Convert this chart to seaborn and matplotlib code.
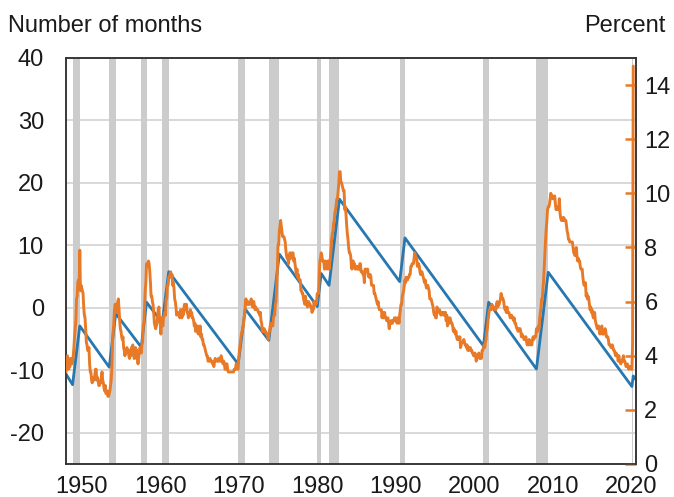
import numpy as np
import pandas as pd
import matplotlib
matplotlib.use("Agg")
import matplotlib.pyplot as plt
import seaborn as sns

# recessions (start, end) in decimal years
rec_start = [1948.83, 1953.50, 1957.58, 1960.25, 1969.92, 1973.83, 1980.00,
             1981.50, 1990.50, 2001.17, 2007.92, 2020.08]
rec_end = [1949.75, 1954.33, 1958.25, 1961.08, 1970.83, 1975.17, 1980.50,
           1982.83, 1991.17, 2001.83, 2009.42, 2020.25]

# blue line: number of months (turning points)
months_x = [1948.0, 1948.83, 1949.75, 1953.50, 1954.33, 1957.58, 1958.25, 1960.25,
            1961.08, 1969.92, 1970.83, 1973.83, 1975.17, 1980.00, 1980.50, 1981.50,
            1982.83, 1990.50, 1991.17, 2001.17, 2001.83, 2007.92, 2009.42, 2020.08,
            2020.25, 2020.58]
months_y = [-10.6, -12.3, -2.9, -9.5, -0.9, -6.3, 0.9, -2.4,
            5.8, -9.0, -0.2, -5.2, 8.6, 0.2, 5.5, 3.6,
            17.4, 4.2, 11.2, -6.1, 0.9, -9.8, 5.7, -12.6,
            -10.9, -11.5]

# orange line: unemployment rate, percent, monthly from Jan 1948
u_1940s = [3.4, 3.8, 4.0, 3.9, 3.5, 3.6, 3.6, 3.9, 3.8, 3.7, 3.8, 4.0,
           4.3, 4.7, 5.0, 5.3, 6.1, 6.2, 6.7, 6.8, 6.6, 7.9, 6.4, 6.6]
u_1950s = [6.5, 6.4, 6.3, 5.8, 5.5, 5.4, 5.0, 4.5, 4.4, 4.2, 4.2, 4.3,
           3.7, 3.4, 3.4, 3.1, 3.0, 3.2, 3.1, 3.1, 3.3, 3.5, 3.5, 3.1,
           3.2, 3.1, 2.9, 2.9, 3.0, 3.0, 3.2, 3.4, 3.1, 3.0, 2.8, 2.7,
           2.9, 2.6, 2.6, 2.7, 2.5, 2.5, 2.6, 2.7, 2.9, 3.1, 3.5, 4.5,
           4.9, 5.2, 5.7, 5.9, 5.9, 5.6, 5.8, 6.0, 6.1, 5.7, 5.3, 5.0,
           4.9, 4.7, 4.6, 4.7, 4.3, 4.2, 4.0, 4.2, 4.1, 4.3, 4.2, 4.2,
           4.0, 3.9, 4.2, 4.0, 4.3, 4.3, 4.4, 4.1, 3.9, 3.9, 4.3, 4.2,
           4.2, 3.9, 3.7, 3.9, 4.1, 4.3, 4.2, 4.1, 4.4, 4.5, 5.1, 5.2,
           5.8, 6.4, 6.7, 7.4, 7.4, 7.3, 7.5, 7.4, 7.1, 6.7, 6.2, 6.2,
           6.0, 5.9, 5.6, 5.2, 5.1, 5.0, 5.1, 5.2, 5.5, 5.7, 5.8, 5.3]
u_1960s = [5.2, 4.8, 5.4, 5.2, 5.1, 5.4, 5.5, 5.6, 5.5, 6.1, 6.1, 6.6,
           6.6, 6.9, 6.9, 7.0, 7.1, 6.9, 7.0, 6.6, 6.7, 6.5, 6.1, 6.0,
           5.8, 5.5, 5.6, 5.6, 5.5, 5.5, 5.4, 5.7, 5.6, 5.4, 5.7, 5.5,
           5.7, 5.9, 5.7, 5.7, 5.9, 5.6, 5.6, 5.4, 5.5, 5.5, 5.7, 5.5,
           5.6, 5.4, 5.4, 5.3, 5.1, 5.2, 4.9, 5.0, 5.1, 5.1, 4.8, 5.0,
           4.9, 5.1, 4.7, 4.8, 4.6, 4.6, 4.4, 4.4, 4.3, 4.2, 4.1, 4.0,
           4.0, 3.8, 3.8, 3.8, 3.9, 3.8, 3.8, 3.8, 3.7, 3.7, 3.6, 3.8,
           3.9, 3.8, 3.8, 3.8, 3.8, 3.9, 3.8, 3.8, 3.8, 4.0, 3.9, 3.8,
           3.7, 3.8, 3.7, 3.5, 3.5, 3.7, 3.7, 3.5, 3.4, 3.4, 3.4, 3.4,
           3.4, 3.4, 3.4, 3.4, 3.4, 3.5, 3.5, 3.5, 3.7, 3.7, 3.5, 3.5]
u_1970s = [3.9, 4.2, 4.4, 4.6, 4.8, 4.9, 5.0, 5.1, 5.4, 5.5, 5.9, 6.1,
           5.9, 5.9, 6.0, 5.9, 5.9, 5.9, 6.0, 6.1, 6.0, 5.8, 6.0, 6.0,
           5.8, 5.7, 5.8, 5.7, 5.7, 5.7, 5.6, 5.6, 5.5, 5.6, 5.3, 5.2,
           4.9, 5.0, 4.9, 5.0, 4.9, 4.9, 4.8, 4.8, 4.8, 4.6, 4.8, 4.9,
           5.1, 5.2, 5.1, 5.1, 5.1, 5.4, 5.5, 5.5, 5.9, 6.0, 6.6, 7.2,
           8.1, 8.1, 8.6, 8.8, 9.0, 8.8, 8.6, 8.4, 8.4, 8.4, 8.3, 8.2,
           7.9, 7.7, 7.6, 7.7, 7.4, 7.6, 7.8, 7.8, 7.6, 7.7, 7.8, 7.8,
           7.5, 7.6, 7.4, 7.2, 7.0, 7.2, 6.9, 7.0, 6.8, 6.8, 6.8, 6.4,
           6.4, 6.3, 6.3, 6.1, 6.0, 5.9, 6.2, 5.9, 6.0, 5.8, 5.9, 6.0,
           5.9, 5.9, 5.8, 5.8, 5.6, 5.7, 5.7, 6.0, 5.9, 6.0, 5.9, 6.0]
u_1980s = [6.3, 6.3, 6.3, 6.9, 7.5, 7.6, 7.8, 7.7, 7.5, 7.5, 7.5, 7.2,
           7.5, 7.4, 7.4, 7.2, 7.5, 7.5, 7.2, 7.4, 7.6, 7.9, 8.3, 8.5,
           8.6, 8.9, 9.0, 9.3, 9.4, 9.6, 9.8, 9.8, 10.1, 10.4, 10.8, 10.8,
           10.4, 10.4, 10.3, 10.2, 10.1, 10.1, 9.4, 9.5, 9.2, 8.8, 8.5, 8.3,
           8.0, 7.8, 7.8, 7.7, 7.4, 7.2, 7.5, 7.5, 7.3, 7.4, 7.2, 7.3,
           7.3, 7.2, 7.2, 7.3, 7.2, 7.4, 7.4, 7.1, 7.1, 7.1, 7.0, 7.0,
           6.7, 7.2, 7.2, 7.1, 7.2, 7.2, 7.0, 6.9, 7.0, 7.0, 6.9, 6.6,
           6.6, 6.6, 6.6, 6.3, 6.3, 6.2, 6.1, 6.0, 5.9, 6.0, 5.8, 5.7,
           5.7, 5.7, 5.7, 5.4, 5.6, 5.4, 5.4, 5.6, 5.4, 5.4, 5.3, 5.3,
           5.4, 5.2, 5.0, 5.2, 5.2, 5.3, 5.2, 5.2, 5.3, 5.3, 5.4, 5.4]
u_1990s = [5.4, 5.3, 5.2, 5.4, 5.4, 5.2, 5.5, 5.7, 5.9, 5.9, 6.2, 6.3,
           6.4, 6.6, 6.8, 6.7, 6.9, 6.9, 6.8, 6.9, 6.9, 7.0, 7.0, 7.3,
           7.3, 7.4, 7.4, 7.4, 7.6, 7.8, 7.7, 7.6, 7.6, 7.3, 7.4, 7.4,
           7.3, 7.1, 7.0, 7.1, 7.1, 7.0, 6.9, 6.8, 6.7, 6.8, 6.6, 6.5,
           6.6, 6.6, 6.5, 6.4, 6.1, 6.1, 6.1, 6.0, 5.9, 5.8, 5.6, 5.5,
           5.6, 5.4, 5.4, 5.8, 5.6, 5.6, 5.7, 5.7, 5.6, 5.5, 5.6, 5.6,
           5.6, 5.5, 5.5, 5.6, 5.6, 5.3, 5.5, 5.1, 5.2, 5.2, 5.4, 5.4,
           5.3, 5.2, 5.2, 5.1, 4.9, 5.0, 4.9, 4.8, 4.9, 4.7, 4.6, 4.7,
           4.6, 4.6, 4.7, 4.3, 4.4, 4.5, 4.5, 4.5, 4.6, 4.5, 4.4, 4.4,
           4.3, 4.4, 4.2, 4.3, 4.2, 4.3, 4.3, 4.2, 4.2, 4.1, 4.1, 4.0]
u_2000s = [4.0, 4.1, 4.0, 3.8, 4.0, 4.0, 4.0, 4.1, 3.9, 3.9, 3.9, 3.9,
           4.2, 4.2, 4.3, 4.4, 4.3, 4.5, 4.6, 4.9, 5.0, 5.3, 5.5, 5.7,
           5.7, 5.7, 5.7, 5.9, 5.8, 5.8, 5.8, 5.7, 5.7, 5.7, 5.9, 6.0,
           5.8, 5.9, 5.9, 6.0, 6.1, 6.3, 6.2, 6.1, 6.1, 6.0, 5.8, 5.7,
           5.7, 5.6, 5.8, 5.6, 5.6, 5.6, 5.5, 5.4, 5.4, 5.5, 5.4, 5.4,
           5.3, 5.4, 5.2, 5.2, 5.1, 5.0, 5.0, 4.9, 5.0, 5.0, 5.0, 4.9,
           4.7, 4.8, 4.7, 4.7, 4.6, 4.6, 4.7, 4.7, 4.5, 4.4, 4.5, 4.4,
           4.6, 4.5, 4.4, 4.5, 4.4, 4.6, 4.7, 4.6, 4.7, 4.7, 4.7, 5.0,
           5.0, 4.9, 5.1, 5.0, 5.4, 5.6, 5.8, 6.1, 6.1, 6.5, 6.8, 7.3,
           7.8, 8.3, 8.7, 9.0, 9.4, 9.5, 9.5, 9.6, 9.8, 10.0, 9.9, 9.9]
u_2010s = [9.8, 9.8, 9.9, 9.9, 9.6, 9.4, 9.4, 9.5, 9.5, 9.4, 9.8, 9.3,
           9.1, 9.0, 9.0, 9.1, 9.0, 9.1, 9.0, 9.0, 9.0, 8.8, 8.6, 8.5,
           8.3, 8.3, 8.2, 8.2, 8.2, 8.2, 8.2, 8.0, 7.8, 7.8, 7.7, 7.9,
           8.0, 7.7, 7.5, 7.6, 7.5, 7.5, 7.3, 7.2, 7.2, 7.2, 6.9, 6.7,
           6.6, 6.7, 6.7, 6.2, 6.3, 6.1, 6.2, 6.1, 5.9, 5.7, 5.8, 5.6,
           5.7, 5.5, 5.4, 5.4, 5.6, 5.3, 5.2, 5.1, 5.0, 5.0, 5.1, 5.0,
           4.8, 4.9, 5.0, 5.1, 4.8, 4.9, 4.8, 4.9, 5.0, 4.9, 4.7, 4.7,
           4.7, 4.6, 4.4, 4.4, 4.4, 4.3, 4.3, 4.4, 4.3, 4.2, 4.2, 4.1,
           4.0, 4.1, 4.0, 4.0, 3.8, 4.0, 3.8, 3.8, 3.7, 3.8, 3.8, 3.9,
           4.0, 3.8, 3.8, 3.7, 3.6, 3.6, 3.7, 3.6, 3.5, 3.6, 3.6, 3.6]
u_2020s = [3.5, 3.5, 4.4, 14.7]

unrate = u_1940s + u_1950s + u_1960s + u_1970s + u_1980s + u_1990s + u_2000s + u_2010s + u_2020s
udates = pd.date_range("1948-01-01", periods=len(unrate), freq="MS")
df_u = pd.DataFrame({"year": udates.year + (udates.month - 1) / 12.0, "rate": unrate})
df_m = pd.DataFrame({"year": months_x, "months": months_y})

BLUE = "#2777b0"
ORANGE = "#e87a27"
TXT = "#1a1a1a"

sns.set_style("white")
plt.rcParams["font.family"] = ["Liberation Sans", "DejaVu Sans"]
plt.rcParams["font.size"] = 17
plt.rcParams["axes.unicode_minus"] = False
plt.rcParams["text.color"] = TXT
plt.rcParams["xtick.labelcolor"] = TXT
plt.rcParams["ytick.labelcolor"] = TXT

fig, ax = plt.subplots(figsize=(6.74, 4.97), dpi=100)
fig.subplots_adjust(left=0.098, right=0.9436, bottom=0.0664, top=0.8833)

for s, e in zip(rec_start, rec_end):
    ax.axvspan(s, e, color="#cccccc", lw=0, zorder=1)

ax.yaxis.grid(True, color="#d6d6d6", lw=1.3, zorder=0)
ax.set_axisbelow(True)

sns.lineplot(data=df_m, x="year", y="months", ax=ax, color=BLUE, lw=2.0, zorder=3)
ax.set_xlim(1948.0, 2020.6)
ax.set_ylim(-25, 40)
ax.set_yticks(range(-20, 41, 10))
ax.set_xticks(range(1950, 2021, 10))
ax.set_xlabel("")
ax.set_ylabel("")
ax.tick_params(axis="y", length=0, pad=16, labelsize=17, labelcolor=TXT)
ax.tick_params(axis="x", direction="in", length=8, width=1, color="#222222", pad=9,
               labelsize=17, labelcolor=TXT)

ax2 = ax.twinx()
sns.lineplot(data=df_u, x="year", y="rate", ax=ax2, color=ORANGE, lw=2.1, zorder=4)
ax2.set_ylim(0, 15)
ax2.set_yticks(range(0, 15, 2))
ax2.set_xlim(1948.0, 2020.6)
ax2.set_ylabel("")
ax2.tick_params(axis="y", direction="in", length=8, width=1.8, color=ORANGE, pad=6,
                labelsize=17, labelcolor=TXT)

for a in (ax, ax2):
    for sp in a.spines.values():
        sp.set_visible(True)
        sp.set_color("#333333")
        sp.set_linewidth(1.1)

fig.text(0.012, 0.936, "Number of months", ha="left", va="baseline", fontsize=17)
fig.text(0.987, 0.936, "Percent", ha="right", va="baseline", fontsize=17)

fig.savefig("out.png", dpi=100)
